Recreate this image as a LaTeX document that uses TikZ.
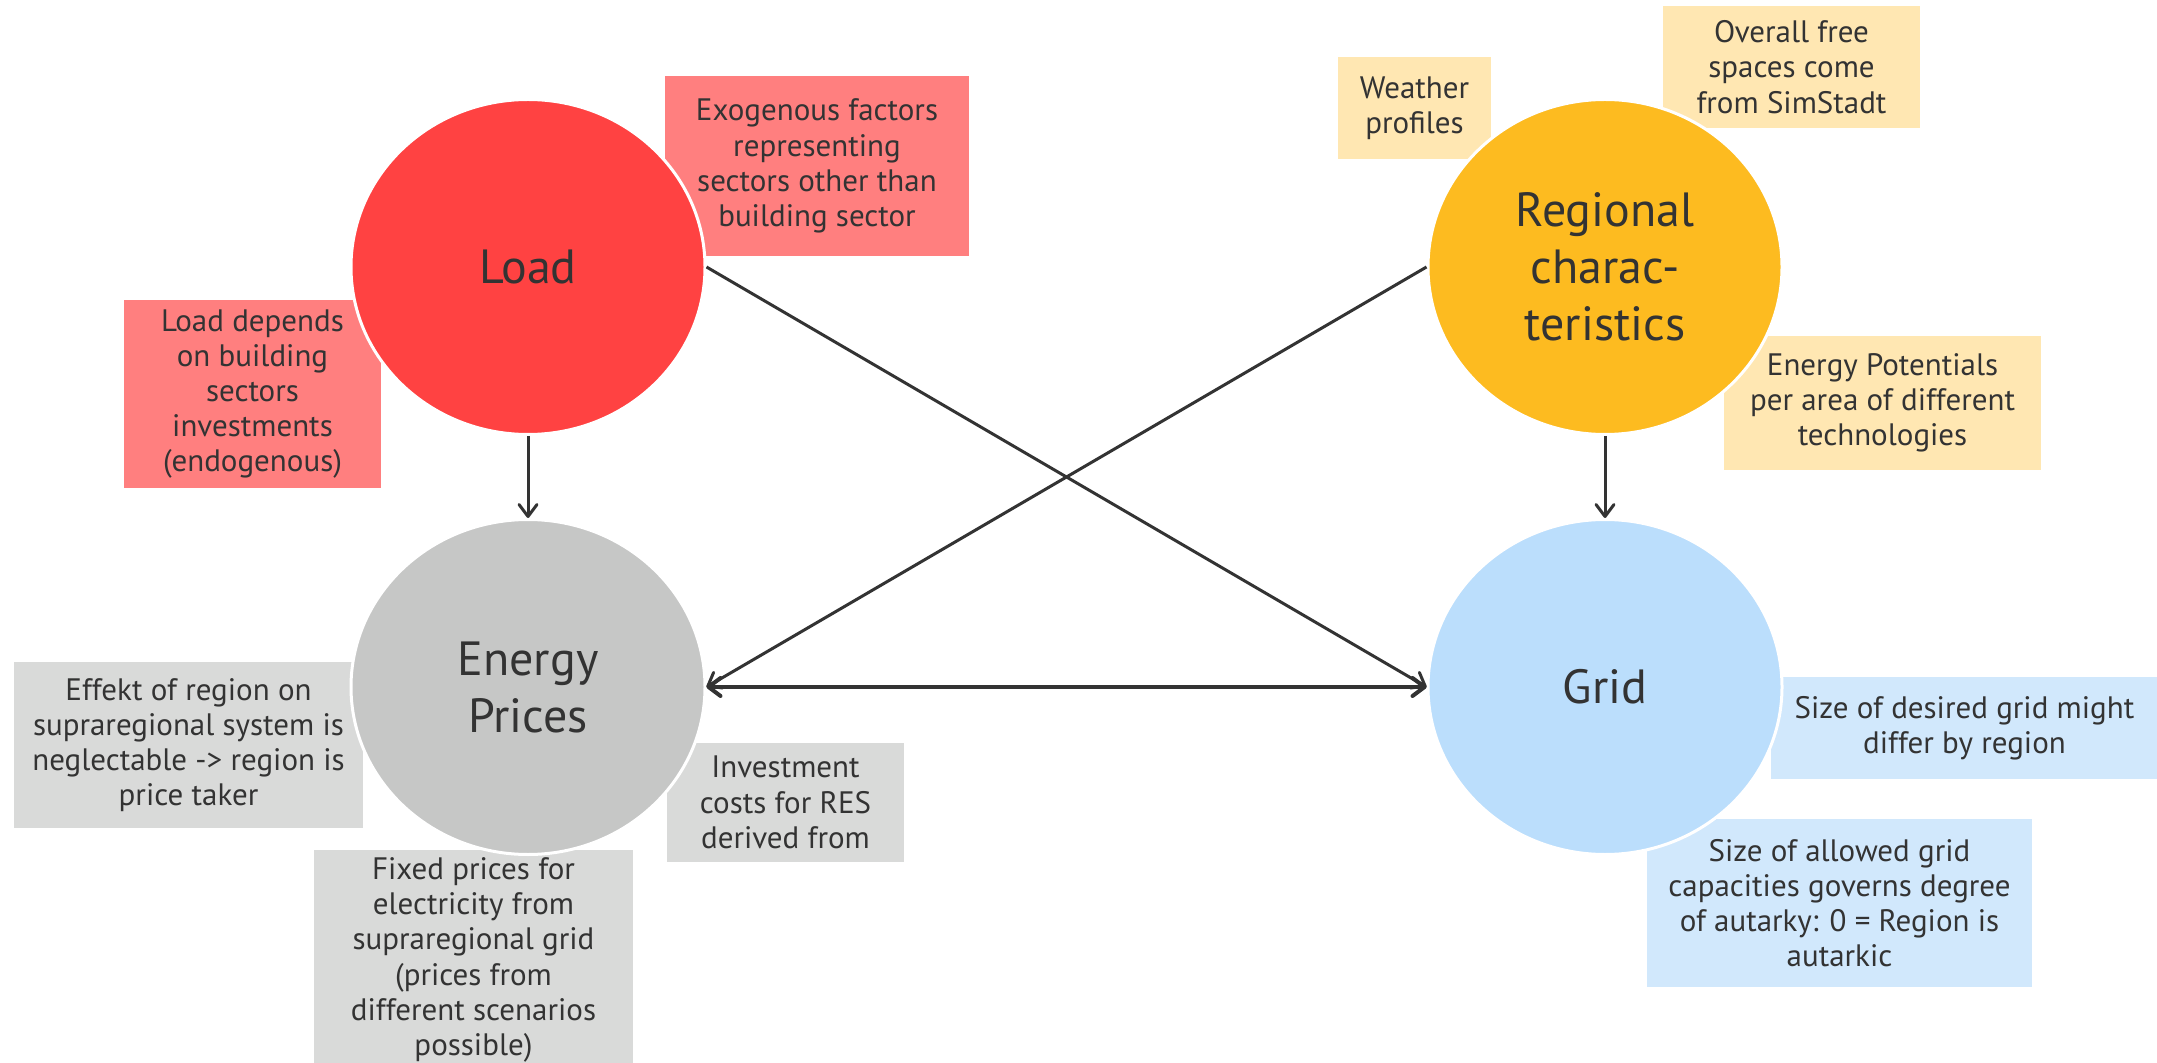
\documentclass[tikz,border=0pt]{standalone}
\usepackage{fontspec}
\setmainfont{PT Sans}
\usetikzlibrary{shapes.geometric,arrows.meta}
\definecolor{loadred}{HTML}{FF4242}
\definecolor{loadnote}{HTML}{FF7F7F}
\definecolor{regyellow}{HTML}{FDBB20}
\definecolor{regnote}{HTML}{FFE7B2}
\definecolor{pricegray}{HTML}{C6C7C6}
\definecolor{pricenote}{HTML}{D9DAD9}
\definecolor{gridblue}{HTML}{BBDEFC}
\definecolor{gridnote}{HTML}{D1E8FC}
\definecolor{ink}{HTML}{333333}
\begin{document}
\begin{tikzpicture}[x=0.5pt,y=-0.5pt,
  >={Straight Barb[length=6pt,width=9pt,round]},
  topic/.style={ellipse,fill=#1,draw=white,line width=1.5pt,minimum width=177pt,minimum height=167.5pt,inner sep=0pt,text=ink,align=center,font=\fontsize{24}{28.5}\selectfont},
  note/.style={fill=#1,inner sep=0pt,text=ink,align=center,font=\fontsize{15.5}{17.6}\selectfont},
  link/.style={draw=ink,line width=1.5pt,->}]
\useasboundingbox (0,0) rectangle (2157,1063);
\node[note=loadnote,minimum width=152pt,minimum height=90pt] (exo) at (817,166) {Exogenous factors\\representing\\sectors other than\\building sector};
\node[note=loadnote,minimum width=128.5pt,minimum height=94pt] (loaddep) at (252.5,394) {Load depends\\on building\\sectors\\investments\\(endogenous)};
\node[note=regnote,minimum width=76.5pt,minimum height=51pt] (weather) at (1414.5,108) {Weather\\profiles};
\node[note=regnote,minimum width=128.5pt,minimum height=61pt] (freespace) at (1791.5,67) {Overall free\\spaces come\\from SimStadt};
\node[note=regnote,minimum width=158.5pt,minimum height=67pt] (potentials) at (1882.5,403) {Energy Potentials\\per area of different\\technologies};
\node[note=pricenote,minimum width=174.5pt,minimum height=83pt] (effekt) at (188.5,745) {Effekt of region on\\supraregional system is\\neglectable -> region is\\price taker};
\node[note=pricenote,minimum width=118.5pt,minimum height=59.5pt] (invest) at (785.5,802.5) {Investment\\costs for RES\\derived from};
\node[note=pricenote,minimum width=159.5pt,minimum height=110pt] (fixed) at (473.5,960) {Fixed prices for\\electricity from\\supraregional grid\\(prices from\\different scenarios\\possible)};
\node[note=gridnote,minimum width=193.5pt,minimum height=51pt] (desired) at (1964.5,728) {Size of desired grid might\\differ by region};
\node[note=gridnote,minimum width=192.5pt,minimum height=84pt] (allowed) at (1839.5,903) {Size of allowed grid\\capacities governs degree\\of autarky: 0 = Region is\\autarkic};
\node[topic=loadred] (load) at (528,267) {Load};
\node[topic=regyellow] (regional) at (1605,267) {Regional\\charac-\\teristics};
\node[topic=pricegray] (prices) at (528,687) {Energy\\Prices};
\node[topic=gridblue] (grid) at (1605,687) {Grid};
\draw[link] (load) -- (prices);
\draw[link] (regional) -- (grid);
\draw[link] (load.east) -- (grid.west);
\draw[link] (regional.west) -- (prices.east);
\draw[link,<->,line width=2pt] (prices.east) -- (grid.west);
\end{tikzpicture}
\end{document}
